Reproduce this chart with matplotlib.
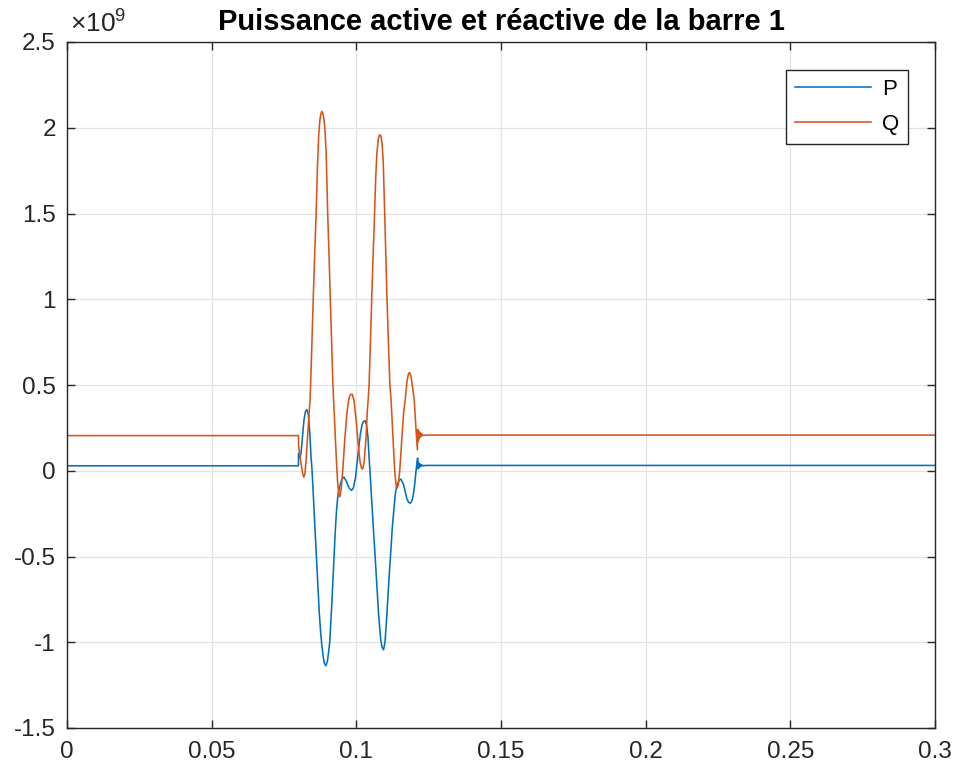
import matplotlib
matplotlib.use("Agg")
import matplotlib.pyplot as plt
from matplotlib.ticker import FixedLocator

plt.rcParams["font.family"] = ["Liberation Sans", "DejaVu Sans"]
plt.rcParams["axes.unicode_minus"] = False
plt.rcParams["mathtext.fontset"] = "custom"
plt.rcParams["mathtext.rm"] = "Liberation Sans"
plt.rcParams["mathtext.it"] = "Liberation Sans"

# Time (s) and powers (x 1e9)
t_p = [0.0, 0.0800, 0.08002, 0.0805, 0.0809, 0.0814, 0.0819, 0.0824, 0.0829,
       0.0834, 0.0839, 0.0843, 0.0847, 0.0852, 0.0857, 0.0862, 0.0867, 0.0872,
       0.0877, 0.0881, 0.0886, 0.0890, 0.0895, 0.0900, 0.0904, 0.0908, 0.0913,
       0.0918, 0.0923, 0.0928, 0.0932, 0.0936, 0.0940, 0.0947, 0.0953, 0.0957,
       0.0965, 0.0975, 0.0983, 0.0990, 0.0997, 0.1003, 0.1008, 0.1014, 0.1020,
       0.1025, 0.1030, 0.1035, 0.1040, 0.1044, 0.1047, 0.1053, 0.1059, 0.1065,
       0.1071, 0.1077, 0.1084, 0.1089, 0.1094, 0.1099, 0.1104, 0.1109, 0.1114,
       0.1118, 0.1124, 0.1131, 0.1136, 0.1141, 0.1148, 0.1154, 0.1163, 0.1170,
       0.1175, 0.1181, 0.1187, 0.1192, 0.1197, 0.1201, 0.1204, 0.1207, 0.1210,
       0.1212, 0.1213, 0.1214, 0.1215, 0.1216, 0.1218, 0.1220, 0.1223, 0.1226,
       0.1230, 0.1240, 0.3]
p_val = [0.029, 0.029, 0.100, 0.075, 0.105, 0.200, 0.295, 0.345, 0.357,
         0.330, 0.225, 0.095, 0.000, -0.165, -0.335, -0.500, -0.665, -0.830,
         -0.950, -1.020, -1.090, -1.125, -1.137, -1.110, -1.060, -1.000, -0.850,
         -0.680, -0.500, -0.330, -0.220, -0.150, -0.110, -0.065, -0.042, -0.037,
         -0.060, -0.100, -0.115, -0.100, -0.040, 0.050, 0.130, 0.215, 0.270,
         0.288, 0.292, 0.270, 0.200, 0.080, 0.000, -0.170, -0.340, -0.500,
         -0.670, -0.840, -0.980, -1.030, -1.044, -1.000, -0.880, -0.740, -0.600,
         -0.500, -0.340, -0.200, -0.120, -0.080, -0.055, -0.049, -0.080, -0.130,
         -0.165, -0.185, -0.189, -0.175, -0.140, -0.090, -0.040, 0.010, 0.055,
         0.074, 0.010, 0.050, 0.015, 0.045, 0.020, 0.040, 0.025, 0.035,
         0.029, 0.031, 0.031]

t_q = [0.0, 0.0800, 0.08005, 0.0805, 0.0810, 0.0814, 0.0818, 0.0822, 0.0826,
       0.0830, 0.0835, 0.0840, 0.0842, 0.0846, 0.0851, 0.0856, 0.0861, 0.0866,
       0.0870, 0.0874, 0.0878, 0.0881, 0.0884, 0.0888, 0.0892, 0.0896, 0.0901,
       0.0906, 0.0910, 0.0915, 0.0919, 0.0924, 0.0930, 0.0935, 0.0939, 0.0943,
       0.0948, 0.0953, 0.0960, 0.0967, 0.0974, 0.0980, 0.0986, 0.0992, 0.0999,
       0.1006, 0.1013, 0.1018, 0.1022, 0.1027, 0.1033, 0.1038, 0.1041, 0.1044,
       0.1049, 0.1053, 0.1058, 0.1063, 0.1067, 0.1071, 0.1076, 0.1079, 0.1082,
       0.1085, 0.1089, 0.1093, 0.1098, 0.1102, 0.1106, 0.1111, 0.1116, 0.1120,
       0.1125, 0.1130, 0.1134, 0.1138, 0.1141, 0.1145, 0.1150, 0.1157, 0.1163,
       0.1169, 0.1175, 0.1180, 0.1184, 0.1189, 0.1195, 0.1200, 0.1206, 0.1211,
       0.1212, 0.1213, 0.1214, 0.1215, 0.1216, 0.1217, 0.1218, 0.1220, 0.1222,
       0.1224, 0.1227, 0.1230, 0.1240, 0.3]
q_val = [0.205, 0.205, 0.140, 0.090, 0.030, -0.010, -0.037, -0.020, 0.050,
         0.160, 0.290, 0.414, 0.500, 0.720, 1.000, 1.260, 1.500, 1.790,
         1.960, 2.045, 2.085, 2.095, 2.085, 2.050, 1.980, 1.840, 1.500,
         1.240, 1.000, 0.730, 0.500, 0.320, 0.100, -0.060, -0.135, -0.152,
         -0.100, 0.000, 0.180, 0.330, 0.420, 0.445, 0.445, 0.410, 0.300,
         0.160, 0.050, 0.015, 0.010, 0.050, 0.180, 0.350, 0.414, 0.500,
         0.760, 1.000, 1.250, 1.500, 1.710, 1.850, 1.935, 1.955, 1.959,
         1.950, 1.910, 1.800, 1.500, 1.250, 1.000, 0.740, 0.500, 0.414,
         0.250, 0.080, -0.030, -0.090, -0.101, -0.080, 0.000, 0.180, 0.330,
         0.414, 0.520, 0.565, 0.573, 0.550, 0.480, 0.414, 0.250, 0.122,
         0.240, 0.170, 0.235, 0.180, 0.230, 0.190, 0.225, 0.195, 0.220,
         0.200, 0.214, 0.205, 0.208, 0.208]

x_ticks = [0, 0.05, 0.1, 0.15, 0.2, 0.25, 0.3]
x_labels = ["0", "0.05", "0.1", "0.15", "0.2", "0.25", "0.3"]
y_ticks = [-1.5, -1, -0.5, 0, 0.5, 1, 1.5, 2, 2.5]
y_labels = ["-1.5", "-1", "-0.5", "0", "0.5", "1", "1.5", "2", "2.5"]

fig = plt.figure(figsize=(9.57, 7.71), dpi=100)
W, H = 957, 771
ax = fig.add_axes([67 / W, 1 - 728 / H, (935 - 67) / W, (728 - 42) / H])

ax.plot(t_p, p_val, color="#0072BD", lw=1.15, label="P")
ax.plot(t_q, q_val, color="#D95319", lw=1.15, label="Q")

ax.set_xlim(0, 0.3)
ax.set_ylim(-1.5, 2.5)
ax.xaxis.set_major_locator(FixedLocator(x_ticks))
ax.yaxis.set_major_locator(FixedLocator(y_ticks))
ax.set_xticklabels(x_labels)
ax.set_yticklabels(y_labels)
ax.tick_params(direction="in", length=6, width=1.0, top=True, right=True,
               labelsize=17.5, colors="#262626")
ax.tick_params(axis="x", pad=9)
ax.tick_params(axis="y", pad=8)
ax.grid(True, color="#e3e3e3", lw=0.9)
ax.set_axisbelow(True)
for s in ax.spines.values():
    s.set_color("#262626")
    s.set_linewidth(1.0)

ax.set_title("Puissance active et réactive de la barre 1", fontsize=21,
             fontweight="bold", pad=9)
ax.text(0.003, 1.006, r"$\times10^{9}$", transform=ax.transAxes, fontsize=19,
        color="#262626", ha="left", va="bottom")

leg = ax.legend(loc="upper right", bbox_to_anchor=(908 / W, 1 - 70 / H),
                bbox_transform=fig.transFigure, fontsize=16, frameon=True,
                fancybox=False, edgecolor="#262626", framealpha=1,
                handlelength=3.4, borderpad=0.4, labelspacing=0.62,
                handletextpad=0.5, borderaxespad=0)
leg.get_frame().set_linewidth(1.0)

fig.savefig("out.png", dpi=100)
